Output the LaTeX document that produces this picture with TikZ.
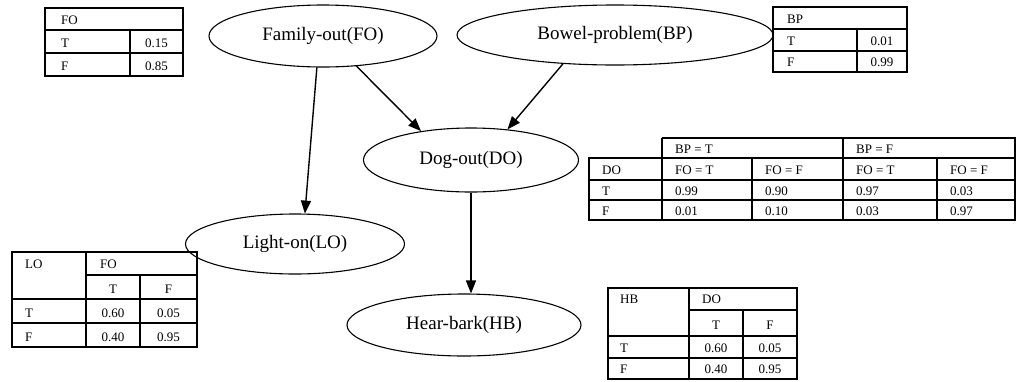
\documentclass[tikz,border=0pt]{standalone}
\usepackage{fontspec}
\setmainfont{Liberation Serif}
\usetikzlibrary{shapes.geometric,arrows.meta}
\begin{document}
\begin{tikzpicture}[x=1pt,y=-1pt,
  var/.style={draw,ellipse,line width=1.1pt,inner sep=0pt,font=\fontsize{19}{21}\selectfont},
  edge/.style={line width=1.4pt,-{Triangle[length=13pt,width=10pt]}},
  tbl/.style={line width=2.2pt},
  thintbl/.style={line width=1.4pt},
  cell/.style={font=\fontsize{13}{15}\selectfont,inner sep=0pt,anchor=base west},
  ccell/.style={font=\fontsize{13}{15}\selectfont,inner sep=0pt,anchor=base},
]
\useasboundingbox (0,0) rectangle (1018,381);

% variables of the network
\node[var,minimum width=228pt,minimum height=62pt] (fo) at (323,36) {Family-out(FO)};
\node[var,minimum width=316pt,minimum height=60pt] (bp) at (615,35) {Bowel-problem(BP)};
\node[var,minimum width=215pt,minimum height=64pt] (do) at (471,160) {Dog-out(DO)};
\node[var,minimum width=219pt,minimum height=60pt] (lo) at (295,244) {Light-on(LO)};
\node[var,minimum width=234pt,minimum height=62pt] (hb) at (464,325) {Hear-bark(HB)};

% dependencies
\draw[edge] (fo.-101) -- (lo.72);
\draw[edge] (fo.-42) -- (do.150);
\draw[edge] (bp.-151) -- (do.40);
\draw[edge] (do.south) -- (do.south |- hb.north);

% P(FO)
\draw[tbl] (45,8) rectangle (183,76);
\draw[tbl] (45,30) -- (183,30) (45,53) -- (183,53) (130,30) -- (130,76);
\node[cell] (fo-h) at (61,24) {FO};
\node[cell] (fo-t) at (61,47) {T};
\node[ccell] (fo-tv) at (156.5,47) {0.15};
\node[cell] (fo-f) at (61,70) {F};
\node[ccell] (fo-fv) at (156.5,70) {0.85};

% P(BP)
\draw[tbl] (773,7) rectangle (907,72);
\draw[tbl] (773,29) -- (907,29) (773,51) -- (907,51) (857,29) -- (857,72);
\node[cell] (bp-h) at (787,23) {BP};
\node[cell] (bp-t) at (787,45) {T};
\node[ccell] (bp-tv) at (882,45) {0.01};
\node[cell] (bp-f) at (787,66) {F};
\node[ccell] (bp-fv) at (882,66) {0.99};

% P(DO | BP, FO)
\draw[thintbl] (662,138) -- (1015,138) -- (1015,220) -- (589,220) -- (589,158) -- (1015,158);
\draw[thintbl] (662,138) -- (662,220) (843,138) -- (843,220)
  (752,158) -- (752,220) (937,158) -- (937,220)
  (589,180) -- (1015,180) (589,200) -- (1015,200);
\node[cell] (do-bpt) at (675,153) {BP = T};
\node[cell] (do-bpf) at (856,153) {BP = F};
\node[cell] (do-h) at (602,174) {DO};
\node[cell] (do-c1) at (675,174) {FO = T};
\node[cell] (do-c2) at (765,174) {FO = F};
\node[cell] (do-c3) at (856,174) {FO = T};
\node[cell] (do-c4) at (950,174) {FO = F};
\node[cell] (do-t) at (602,195) {T};
\node[cell] (do-t1) at (675,195) {0.99};
\node[cell] (do-t2) at (765,195) {0.90};
\node[cell] (do-t3) at (856,195) {0.97};
\node[cell] (do-t4) at (950,195) {0.03};
\node[cell] (do-f) at (602,215) {F};
\node[cell] (do-f1) at (675,215) {0.01};
\node[cell] (do-f2) at (765,215) {0.10};
\node[cell] (do-f3) at (856,215) {0.03};
\node[cell] (do-f4) at (950,215) {0.97};

% P(LO | FO)
\draw[tbl] (12,252) rectangle (197,347);
\draw[tbl] (86,252) -- (86,347) (140,275) -- (140,347)
  (86,275) -- (197,275) (12,299) -- (197,299) (12,323) -- (197,323);
\node[cell] (lo-h) at (25,268) {LO};
\node[cell] (lo-p) at (100,268) {FO};
\node[ccell] (lo-pt) at (113,293) {T};
\node[ccell] (lo-pf) at (168.5,293) {F};
\node[cell] (lo-t) at (25,317) {T};
\node[ccell] (lo-t1) at (113,317) {0.60};
\node[ccell] (lo-t2) at (168.5,317) {0.05};
\node[cell] (lo-f) at (25,341) {F};
\node[ccell] (lo-f1) at (113,341) {0.40};
\node[ccell] (lo-f2) at (168.5,341) {0.95};

% P(HB | DO)
\draw[tbl] (608,288) rectangle (797,379);
\draw[tbl] (689,288) -- (689,379) (743,310) -- (743,379)
  (689,310) -- (797,310) (608,336) -- (797,336) (608,358) -- (797,358);
\node[cell] (hb-h) at (620,303) {HB};
\node[cell] (hb-p) at (702,303) {DO};
\node[ccell] (hb-pt) at (716,329) {T};
\node[ccell] (hb-pf) at (770,329) {F};
\node[cell] (hb-t) at (620,352) {T};
\node[ccell] (hb-t1) at (716,352) {0.60};
\node[ccell] (hb-t2) at (770,352) {0.05};
\node[cell] (hb-f) at (620,373) {F};
\node[ccell] (hb-f1) at (716,373) {0.40};
\node[ccell] (hb-f2) at (770,373) {0.95};
\end{tikzpicture}
\end{document}
